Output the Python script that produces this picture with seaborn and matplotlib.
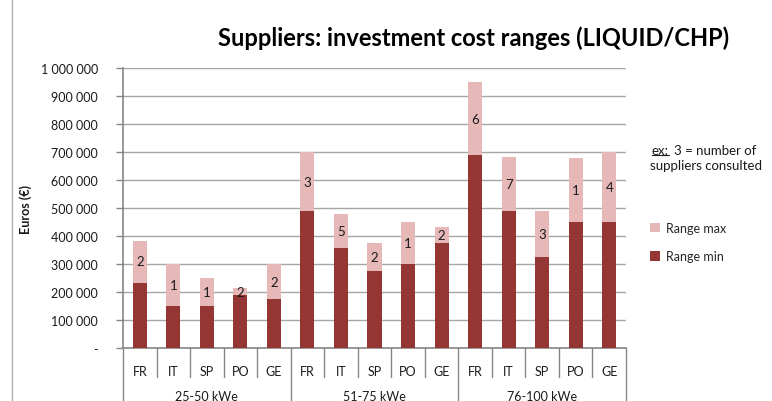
import matplotlib
matplotlib.use('Agg')
import matplotlib.pyplot as plt
import matplotlib.transforms as mtransforms
from matplotlib.lines import Line2D
from matplotlib.patches import Patch
import seaborn as sns
import pandas as pd

# ---- data ----
groups = ['25-50 kWe', '51-75 kWe', '76-100 kWe']
countries = ['FR', 'IT', 'SP', 'PO', 'GE']
range_min = [235000, 150000, 150000, 190000, 175000,
             490000, 360000, 275000, 300000, 375000,
             690000, 490000, 325000, 450000, 450000]
range_max = [385000, 300000, 250000, 215000, 300000,
             700000, 480000, 375000, 450000, 435000,
             950000, 685000, 490000, 680000, 700000]
suppliers = [2, 1, 1, 2, 2,
             3, 5, 2, 1, 2,
             6, 7, 3, 1, 4]
yticks = [0, 100000, 200000, 300000, 400000, 500000, 600000, 700000, 800000, 900000, 1000000]
ytick_labels = ['-', '100 000', '200 000', '300 000', '400 000', '500 000',
                '600 000', '700 000', '800 000', '900 000', '1 000 000']

DARK = '#943634'
LIGHT = '#E6B9B8'
AXIS = '#868686'
GRID = '#a6a6a6'

sns.set_theme(style='white')
plt.rcParams['font.family'] = ['Lato', 'DejaVu Sans']

keys = [f'{g} {c}' for g in groups for c in countries]
df = pd.DataFrame({'key': keys, 'min': range_min, 'max': range_max, 'n': suppliers})

fig = plt.figure(figsize=(7.72, 4.02), dpi=100)
ax = fig.add_axes([123 / 772, 52.7 / 402, 503 / 772, 280 / 402])

sns.barplot(data=df, x='key', y='max', order=keys, color=LIGHT, saturation=1,
            width=0.42, ax=ax, zorder=2, linewidth=0, edgecolor='none')
sns.barplot(data=df, x='key', y='min', order=keys, color=DARK, saturation=1,
            width=0.42, ax=ax, zorder=3, linewidth=0, edgecolor='none')

for i, (lo, hi, n) in enumerate(zip(range_min, range_max, suppliers)):
    ax.text(i, (lo + hi) / 2, str(n), ha='center', va='center', fontsize=9.5,
            color='#1a1a1a', zorder=4)

ax.set_xlim(-0.5, len(keys) - 0.5)
ax.set_ylim(0, 1000000)
ax.set_yticks(yticks)
ax.set_yticklabels(ytick_labels, fontsize=9, color='#1a1a1a')
ax.tick_params(axis='y', length=5, width=1, color=AXIS, pad=13, left=True, direction='out')
ax.set_xticks(range(len(keys)))
ax.set_xticklabels(countries * len(groups), fontsize=9, color='#1a1a1a')
ax.tick_params(axis='x', length=0, pad=12)
ax.set_xlabel('')
ax.set_ylabel('Euros (€)', fontsize=9, fontweight='bold', labelpad=6, color='#1a1a1a')
ax.yaxis.grid(True, color=GRID, lw=1)
ax.set_axisbelow(True)
for s in ['top', 'right']:
    ax.spines[s].set_visible(False)
for s in ['left', 'bottom']:
    ax.spines[s].set_color(AXIS)
    ax.spines[s].set_linewidth(1.2)

trans = mtransforms.blended_transform_factory(ax.transData, ax.transAxes)
for i in range(len(keys) + 1):
    x = i - 0.5
    if i % len(countries) == 0:
        ax.add_line(Line2D([x, x], [0, -0.3], transform=trans, color=AXIS, lw=1, clip_on=False))
    else:
        ax.add_line(Line2D([x, x], [0, -0.1025], transform=trans, color=AXIS, lw=1, clip_on=False))
for gi, g in enumerate(groups):
    ax.text(gi * len(countries) + (len(countries) - 1) / 2, -0.17, g, transform=trans,
            ha='center', va='center', fontsize=9, color='#1a1a1a')

# title
fig.text(474 / 772, 1 - 38 / 402, 'Suppliers: investment cost ranges (LIQUID/CHP)',
         ha='center', va='center', fontsize=17, fontweight='bold', color='#000000')

# legend
handles = [Patch(facecolor=LIGHT, edgecolor='none', label='Range max'),
           Patch(facecolor=DARK, edgecolor='none', label='Range min')]
fig.legend(handles=handles, loc='upper left', bbox_to_anchor=(645 / 772, 1 - 218 / 402),
           frameon=False, fontsize=9, handlelength=0.8, handleheight=0.8,
           handletextpad=0.5, labelspacing=1.3, borderaxespad=0)

# annotation
t1 = fig.text(652 / 772, 1 - 151 / 402, 'ex:', ha='left', va='center', fontsize=9.5, color='#1a1a1a')
fig.text(674 / 772, 1 - 151 / 402, '3 = number of', ha='left', va='center', fontsize=9.5, color='#1a1a1a')
fig.text(706 / 772, 1 - 166 / 402, 'suppliers consulted', ha='center', va='center', fontsize=9.5, color='#1a1a1a')
fig.canvas.draw()
bb = t1.get_window_extent(fig.canvas.get_renderer())
fig.add_artist(Line2D([bb.x0 / 772, bb.x1 / 772], [(bb.y0 + 1) / 402] * 2, color='#1a1a1a', lw=0.8))

# chart frame left border
fig.add_artist(Line2D([12 / 772] * 2, [0, 1], color='#b0b0b0', lw=1))

fig.savefig('out.png', dpi=100)
